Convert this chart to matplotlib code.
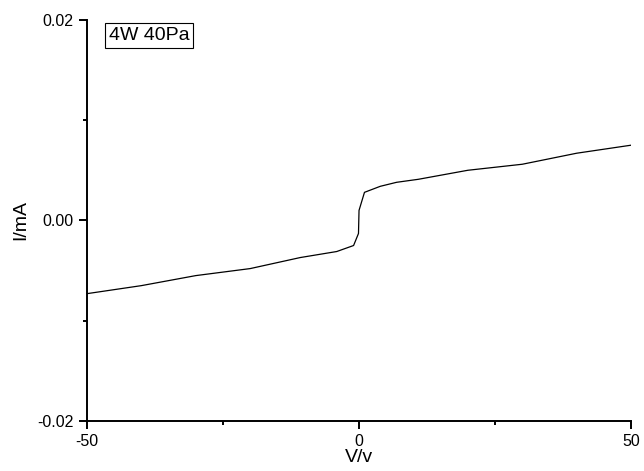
import matplotlib
matplotlib.use("Agg")
import matplotlib.pyplot as plt
from matplotlib.ticker import MultipleLocator

plt.rcParams['font.family'] = ['Liberation Sans', 'DejaVu Sans']

# I-V sweep, 4W at 40Pa
voltage = [-50, -40, -30, -20, -10.8, -4.1, -1.0, -0.1, 0.0, 1.0, 3.9, 6.9, 10.9, 20, 30, 40, 50]
current = [-0.0073, -0.0065, -0.0055, -0.0048, -0.0037, -0.0031, -0.0025, -0.0013, 0.0010,
           0.0028, 0.0034, 0.0038, 0.0041, 0.0050, 0.0056, 0.0067, 0.0075]

fig = plt.figure(figsize=(6.44, 4.71), dpi=100)
ax = fig.add_axes([0.135, 0.106, 0.845, 0.852])
ax.plot(voltage, current, color='black', lw=0.9)

ax.set_xlim(-50, 50)
ax.set_ylim(-0.02, 0.02)
ax.xaxis.set_minor_locator(MultipleLocator(25))
ax.yaxis.set_minor_locator(MultipleLocator(0.01))
ax.set_yticks([-0.02, 0.0, 0.02])
ax.set_yticklabels(['-0.02', '0.00', '0.02'], fontsize=11.5)
ax.set_xticks([-50, 0, 50])
ax.set_xticklabels(['-50', '0', '50'], fontsize=11.5)

for s in ['top', 'right']:
    ax.spines[s].set_visible(False)
for s in ['left', 'bottom']:
    ax.spines[s].set_linewidth(1.4)
ax.tick_params(which='major', direction='out', length=5.5, width=1.4)
ax.tick_params(axis='x', which='major', pad=3.5)
ax.tick_params(axis='y', which='major', pad=4)
ax.tick_params(which='minor', direction='out', length=3, width=1.4)

ax.set_xlabel('V/v', fontsize=14, labelpad=0)
ax.set_ylabel('I/mA', fontsize=14, labelpad=6)

ax.text(0.040, 0.982, '4W 40Pa', transform=ax.transAxes, fontsize=14, va='top', ha='left',
        bbox=dict(boxstyle='square,pad=0.2', facecolor='white', edgecolor='black', lw=0.8))

fig.savefig('out.png', dpi=100)
